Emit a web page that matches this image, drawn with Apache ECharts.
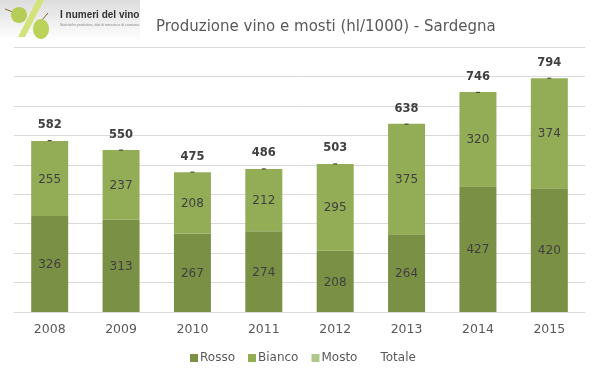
<!DOCTYPE html>
<html>
<head>
<meta charset="utf-8">
<style>
  html, body { margin: 0; padding: 0; background: #fff; }
  #chart { width: 599px; height: 378px; }
</style>
<script src="https://cdn.jsdelivr.net/npm/echarts@6/dist/echarts.min.js"></script>
</head>
<body>
<div id="chart"></div>
<script>
const years = ['2008', '2009', '2010', '2011', '2012', '2013', '2014', '2015'];
const rosso = [326, 313, 267, 274, 208, 264, 427, 420];
const bianco = [255, 237, 208, 212, 295, 375, 320, 374];
const mosto = [null, null, null, null, null, null, null, null];
const totale = [582, 550, 475, 486, 503, 638, 746, 794];

const chart = echarts.init(document.getElementById('chart'));
const font = '"DejaVu Sans", sans-serif';

const stackBar = (name, data, color) => ({
  name: name,
  type: 'bar',
  stack: 'tot',
  barWidth: 37,
  data: data,
  itemStyle: { color: color },
  label: { show: true, position: 'inside', offset: [0, 1], color: '#404040', fontSize: 12, fontFamily: font }
});

chart.setOption({
  animation: false,
  title: {
    text: 'Produzione vino e mosti (hl/1000) - Sardegna',
    left: 151,
    top: 15,
    textStyle: { color: '#595959', fontSize: 15, fontWeight: 'normal', fontFamily: font }
  },
  legend: {
    left: 185,
    top: 347,
    itemWidth: 8,
    itemHeight: 8,
    itemGap: 13,
    textStyle: { color: '#595959', fontSize: 12, fontFamily: font, padding: [0, 0, 0, -3] },
    data: [
      { name: 'Rosso', icon: 'rect' },
      { name: 'Bianco', icon: 'rect' },
      { name: 'Mosto', icon: 'rect' },
      { name: 'Totale', icon: 'none', itemStyle: { opacity: 0 } }
    ]
  },
  grid: { left: 14, right: 14, top: 47, bottom: 66 },
  xAxis: {
    type: 'category',
    data: years,
    axisTick: { show: false },
    axisLine: { lineStyle: { color: '#d9d9d9', width: 1 } },
    axisLabel: { color: '#595959', fontSize: 12.5, fontFamily: font, margin: 11 }
  },
  yAxis: {
    type: 'value',
    min: 0,
    max: 900,
    interval: 100,
    axisLabel: { show: false },
    axisLine: { show: false },
    axisTick: { show: false },
    splitLine: { lineStyle: { color: '#d9d9d9', width: 1 } }
  },
  graphic: [
    // logo in alto a sinistra
    {
      type: 'rect',
      shape: { x: 0, y: 0, width: 140, height: 40 },
      style: {
        fill: new echarts.graphic.LinearGradient(0, 0, 0, 1, [
          { offset: 0, color: '#dcdcdc' },
          { offset: 1, color: '#ffffff' }
        ])
      }
    },
    {
      type: 'polygon',
      shape: { points: [[37, 0], [44, 0], [25, 37], [18, 37]] },
      style: { fill: '#d3e27a' }
    },
    { type: 'line', shape: { x1: 5, y1: 9, x2: 13, y2: 12 }, style: { stroke: '#7a6a3a', lineWidth: 1 } },
    { type: 'line', shape: { x1: 42, y1: 20, x2: 48, y2: 13 }, style: { stroke: '#7a5a3a', lineWidth: 1 } },
    { type: 'ellipse', shape: { cx: 19, cy: 15, rx: 8, ry: 8 }, style: { fill: '#b5cc55' } },
    { type: 'ellipse', shape: { cx: 41, cy: 29, rx: 8, ry: 10 }, style: { fill: '#bcd35a' } },
    {
      type: 'text',
      left: 60,
      top: 10,
      style: { text: 'I numeri del vino', fill: '#333', font: 'bold 10px "Liberation Sans Narrow", "Liberation Sans", sans-serif' }
    },
    {
      type: 'text',
      left: 60,
      top: 23,
      style: { text: 'Statistiche produttive, dati di mercato e di consumo.', fill: '#888', font: '3.5px "Liberation Sans", sans-serif' }
    }
  ],
  series: [
    stackBar('Rosso', rosso, '#7a9044'),
    stackBar('Bianco', bianco, '#92ad56'),
    stackBar('Mosto', mosto, '#afc888'),
    {
      name: 'Totale',
      type: 'line',
      data: totale,
      lineStyle: { opacity: 0 },
      symbol: 'rect',
      symbolSize: [4, 1],
      itemStyle: { color: '#333' },
      label: {
        show: true,
        position: 'top',
        distance: 9,
        color: '#404040',
        fontSize: 11.5,
        fontWeight: 'bold',
        fontFamily: font
      }
    }
  ]
});
</script>
</body>
</html>
